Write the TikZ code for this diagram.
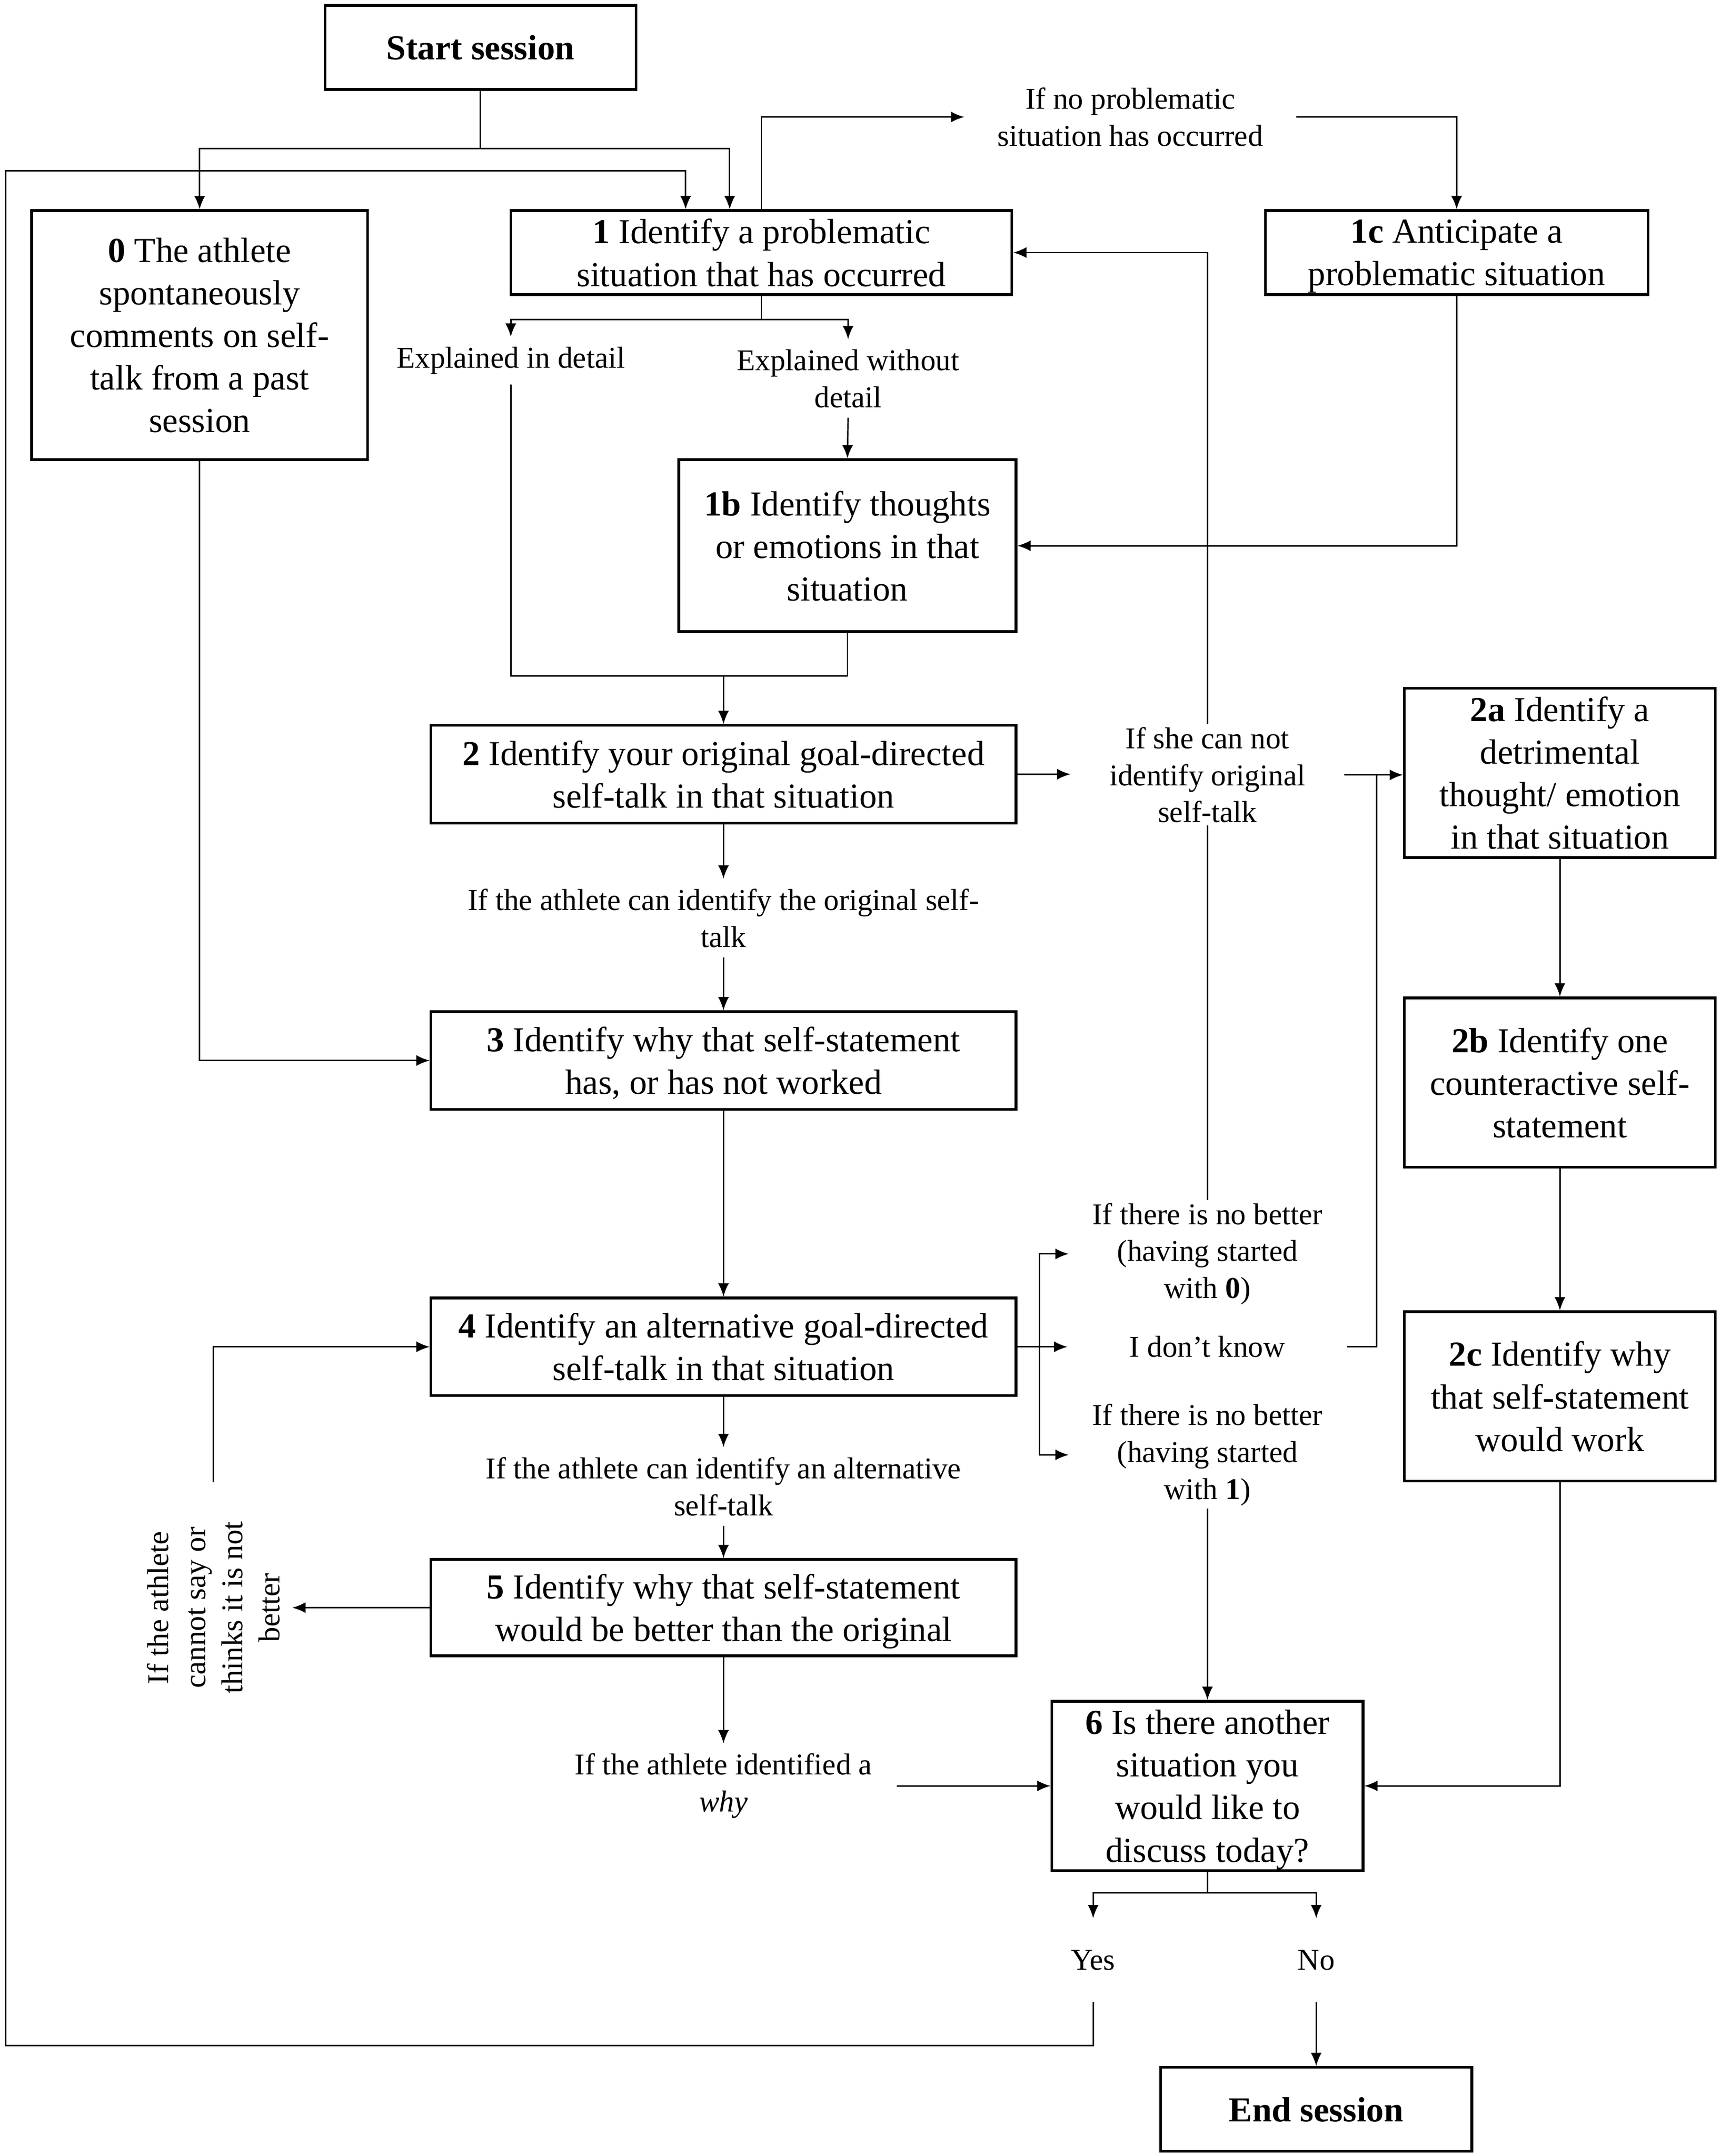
\documentclass[tikz,border=0pt]{standalone}
\usepackage{fontspec}
\setmainfont{Liberation Serif}
\usetikzlibrary{arrows.meta}

\begin{document}
\begin{tikzpicture}[x=0.02cm,y=-0.02cm,
  >={Latex[length=5.5pt,width=4.5pt]},
  box/.style={draw,line width=1.1pt,inner sep=0pt,text depth=0pt,align=center,font=\fontsize{14.5}{17.6}\selectfont},
  sbox/.style={box,minimum width=4.52cm,minimum height=2.46cm},
  wbox/.style={box,minimum width=8.5cm,minimum height=1.42cm},
  lbl/.style={inner sep=4pt,align=center,font=\fontsize{12.5}{15.3}\selectfont},
  line/.style={line width=0.6pt}]

\useasboundingbox (0,0) rectangle (1250,1566.4);

% boxes
\node[box,minimum width=4.52cm,minimum height=1.22cm] (start) at (349,34.5) {\textbf{Start session}};
\node[box,minimum width=4.88cm,minimum height=3.62cm] (b0) at (145,243.5) {\textbf{0} The athlete\\spontaneously\\comments on self-\\talk from a past\\session};
\node[box,minimum width=7.28cm,minimum height=1.22cm] (b1) at (553,183.5) {\textbf{1} Identify a problematic\\situation that has occurred};
\node[box,minimum width=5.56cm,minimum height=1.22cm] (b1c) at (1058,183.5) {\textbf{1c} Anticipate a\\problematic situation};
\node[box,minimum width=4.9cm,minimum height=2.5cm] (b1b) at (615.5,396.5) {\textbf{1b} Identify thoughts\\or emotions in that\\situation};
\node[wbox] (b2) at (525.5,562.5) {\textbf{2} Identify your original goal-directed\\self-talk in that situation};
\node[sbox] (b2a) at (1133,561.5) {\textbf{2a} Identify a\\detrimental\\thought/ emotion\\in that situation};
\node[sbox] (b2b) at (1133,786.5) {\textbf{2b} Identify one\\counteractive self-\\statement};
\node[sbox] (b2c) at (1133,1014.5) {\textbf{2c} Identify why\\that self-statement\\would work};
\node[wbox] (b3) at (525.5,770.5) {\textbf{3} Identify why that self-statement\\has, or has not worked};
\node[wbox] (b4) at (525.5,978.5) {\textbf{4} Identify an alternative goal-directed\\self-talk in that situation};
\node[wbox,minimum height=1.4cm] (b5) at (525.5,1168) {\textbf{5} Identify why that self-statement\\would be better than the original};
\node[sbox] (b6) at (877,1297.5) {\textbf{6} Is there another\\situation you\\would like to\\discuss today?};
\node[box,minimum width=4.52cm,minimum height=1.22cm] (end) at (956,1532.5) {\textbf{End session}};

% labels
\node[lbl,inner xsep=13.6pt] (noprob) at (821,85) {If no problematic\\situation has occurred};
\node[lbl] (detail) at (371,262) {Explained in detail};
\node[lbl] (nodetail) at (616,275) {Explained without\\detail};
\node[lbl,inner xsep=16pt,inner ysep=1pt] (cannot) at (877,563) {If she can not\\identify original\\self-talk};
\node[lbl] (canorig) at (525.5,667) {If the athlete can identify the original self-\\talk};
\node[lbl,inner xsep=9.6pt,inner ysep=1pt] (nobetter0) at (877,911) {If there is no better\\(having started\\with \textbf{0})};
\node[lbl,inner xsep=25.5pt] (dontknow) at (877,978.5) {I don’t know};
\node[lbl,inner xsep=9.6pt,inner ysep=1pt] (nobetter1) at (877,1057) {If there is no better\\(having started\\with \textbf{1})};
\node[lbl] (canalt) at (525.5,1080) {If the athlete can identify an alternative\\self-talk};
\node[lbl,rotate=90,inner xsep=16pt,inner ysep=5pt] (cannotsay) at (155,1168) {If the athlete\\cannot say or\\thinks it is not\\better};
\node[lbl,inner xsep=10pt] (why) at (525.5,1297.5) {If the athlete identified a\\\emph{why}};
\node[lbl,minimum height=1.2cm] (yes) at (794,1424) {Yes};
\node[lbl,minimum height=1.2cm] (no) at (956,1424) {No};

% junctions
\coordinate (top) at (349,108);
\coordinate (in1a) at (530,108);
\coordinate (in1b) at (498,124);
\coordinate (loopL) at (4,1486);
\coordinate (sp1) at (553,232);
\coordinate (mg) at (525.5,491);
\coordinate (jk) at (1000,563);
\coordinate (br) at (755,978.5);
\coordinate (sp6) at (877,1375);

% connectors
\draw[line] (start.south) -- (top);
\draw[line,->] (top) -| (b0.north);
\draw[line,->] (top) -- (in1a) -- (in1a |- b1.north);
\draw[line,->] (yes.south) |- (loopL) |- (in1b) -- (in1b |- b1.north);
\draw[line,->] (b1.north) |- (noprob.west);
\draw[line,->] (noprob.east) -| (b1c.north);
\draw[line,->] (b1c.south) |- (b1b.east);
\draw[line] (b1.south) -- (sp1);
\draw[line,->] (sp1) -| (detail.north);
\draw[line,->] (sp1) -| (nodetail.north);
\draw[line,->] (nodetail.south) -- (b1b.north);
\draw[line] (detail.south) |- (mg);
\draw[line] (b1b.south) |- (mg);
\draw[line,->] (mg) -- (b2.north);
\draw[line,->] (b2.east) -- (b2.east -| cannot.west);
\draw[line,->] (cannot.north) |- (b1.east);
\draw[line] (nobetter0.north) -- (cannot.south);
\draw[line,->] (cannot.east) -- (cannot.east -| b2a.west);
\draw[line] (dontknow.east) -| (jk);
\draw[line,->] (b2a.south) -- (b2b.north);
\draw[line,->] (b2b.south) -- (b2c.north);
\draw[line,->] (b2c.south) |- (b6.east);
\draw[line,->] (b2.south) -- (canorig.north);
\draw[line,->] (canorig.south) -- (b3.north);
\draw[line,->] (b0.south) |- (b3.west);
\draw[line,->] (b3.south) -- (b4.north);
\draw[line] (b4.east) -- (br);
\draw[line,->] (br) |- (nobetter0.west);
\draw[line,->] (br) -- (dontknow.west);
\draw[line,->] (br) |- (nobetter1.west);
\draw[line,->] (nobetter1.south) -- (b6.north);
\draw[line,->] (b4.south) -- (canalt.north);
\draw[line,->] (canalt.south) -- (b5.north);
\draw[line,->] (b5.west) -- (cannotsay.south);
\draw[line,->] (cannotsay.east) |- (b4.west);
\draw[line,->] (b5.south) -- (why.north);
\draw[line,->] (why.east) -- (b6.west);
\draw[line] (b6.south) -- (sp6);
\draw[line,->] (sp6) -| (yes.north);
\draw[line,->] (sp6) -| (no.north);
\draw[line,->] (no.south) -- (end.north);
\end{tikzpicture}
\end{document}
